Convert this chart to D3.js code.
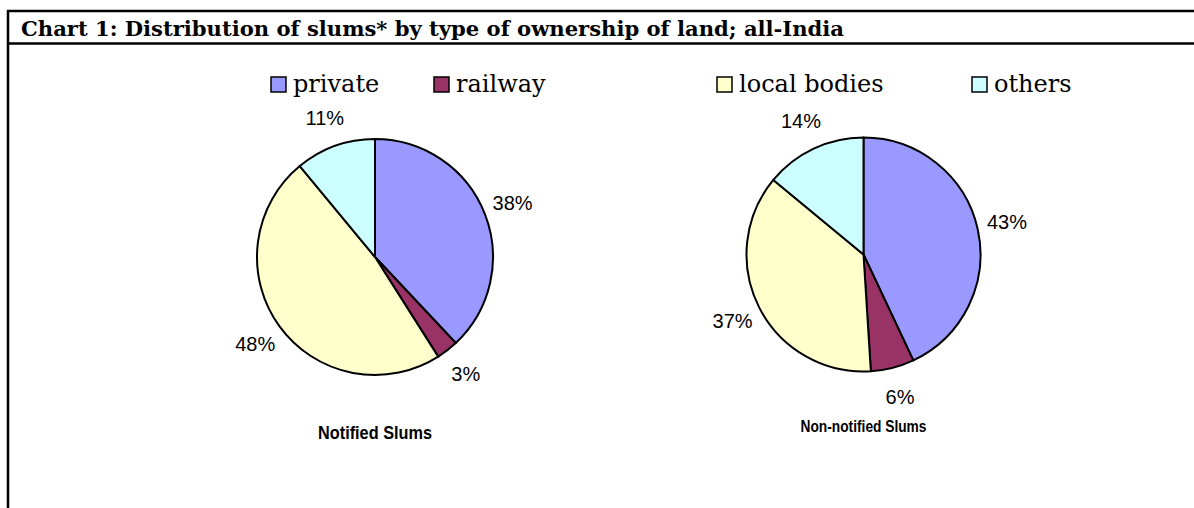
<!DOCTYPE html>
<html lang="en">
  <head>
    <meta charset='utf-8' />
    <title>Chart 1: Distribution of slums by type of ownership of land</title>
    <script src='https://cdn.jsdelivr.net/npm/d3@7/dist/d3.min.js'></script>
    <style>
      body { margin: 0; background: #fff; }
      svg { display: block; }
    </style>
  </head>
  <body>
    <div id='chart'></div>
    <script type='text/javascript'>
      // ownership categories, same order for both pies (clockwise from 12 o'clock)
      var categories = ["private", "railway", "local bodies", "others"];
      var colors = ["#9999FF", "#993366", "#FFFFCC", "#CCFFFF"];

      // shares in percent
      var notified = [38, 3, 48, 11];
      var nonNotified = [43, 6, 37, 14];

      var pieTitles = ["Notified Slums", "Non-notified Slums"];

      var width = 1194, height = 508;
      var serif = '"DejaVu Serif", "Liberation Serif", serif';
      var sans = '"Liberation Sans", Arial, sans-serif';

      var svg = d3.select('#chart').append('svg')
        .attr('width', width)
        .attr('height', height);

      // frame: top rule, title rule, left rule
      var frame = svg.append('g').attr('stroke', '#000').attr('stroke-width', 2.5);
      frame.append('line').attr('x1', 7).attr('x2', width).attr('y1', 11).attr('y2', 11);
      frame.append('line').attr('x1', 7).attr('x2', width).attr('y1', 43.5).attr('y2', 43.5);
      frame.append('line').attr('x1', 8).attr('x2', 8).attr('y1', 10).attr('y2', height);

      svg.append('text')
        .attr('x', 21)
        .attr('y', 36)
        .attr('textLength', 823)
        .attr('lengthAdjust', 'spacingAndGlyphs')
        .style('font-family', serif)
        .style('font-weight', 'bold')
        .style('font-size', '19.5px')
        .text('Chart 1: Distribution of slums* by type of ownership of land; all-India');

      // legend
      var legendX = [271, 434, 717, 972];
      var legend = svg.append('g').selectAll('g')
        .data(categories)
        .join('g')
        .attr('transform', function(d, i) { return 'translate(' + legendX[i] + ',77)'; });

      legend.append('rect')
        .attr('width', 15)
        .attr('height', 15)
        .attr('fill', function(d, i) { return colors[i]; })
        .attr('stroke', '#000')
        .attr('stroke-width', 1.5);

      legend.append('text')
        .attr('x', 22)
        .attr('y', 15)
        .style('font-family', serif)
        .style('font-size', '24px')
        .text(function(d) { return d; });

      var pie = d3.pie().sort(null).value(function(d) { return d; });

      function drawPie(values, cx, cy, r, title, titleY, titleSize, titleLen) {
        var g = svg.append('g').attr('transform', 'translate(' + cx + ',' + cy + ')');
        var arc = d3.arc().innerRadius(0).outerRadius(r);
        var labelArc = d3.arc().innerRadius(r + 30).outerRadius(r + 30);
        var arcs = pie(values);

        g.selectAll('path')
          .data(arcs)
          .join('path')
          .attr('d', arc)
          .attr('fill', function(d, i) { return colors[i]; })
          .attr('stroke', '#000')
          .attr('stroke-width', 2)
          .attr('stroke-linejoin', 'round');

        g.selectAll('text.lbl')
          .data(arcs)
          .join('text')
          .attr('class', 'lbl')
          .attr('transform', function(d) { return 'translate(' + labelArc.centroid(d) + ')'; })
          .attr('text-anchor', 'middle')
          .attr('dy', '0.35em')
          .style('font-family', sans)
          .style('font-size', '20px')
          .text(function(d) { return d.data + '%'; });

        g.append('text')
          .attr('x', -titleLen / 2)
          .attr('y', titleY)
          .attr('textLength', titleLen)
          .attr('lengthAdjust', 'spacingAndGlyphs')
          .style('font-family', sans)
          .style('font-weight', 'bold')
          .style('font-size', titleSize + 'px')
          .text(title);
      }

      drawPie(notified, 375, 257, 118, pieTitles[0], 182, 18, 114);
      drawPie(nonNotified, 863.5, 254.5, 117, pieTitles[1], 177, 16.5, 126);
    </script>
  </body>
</html>
